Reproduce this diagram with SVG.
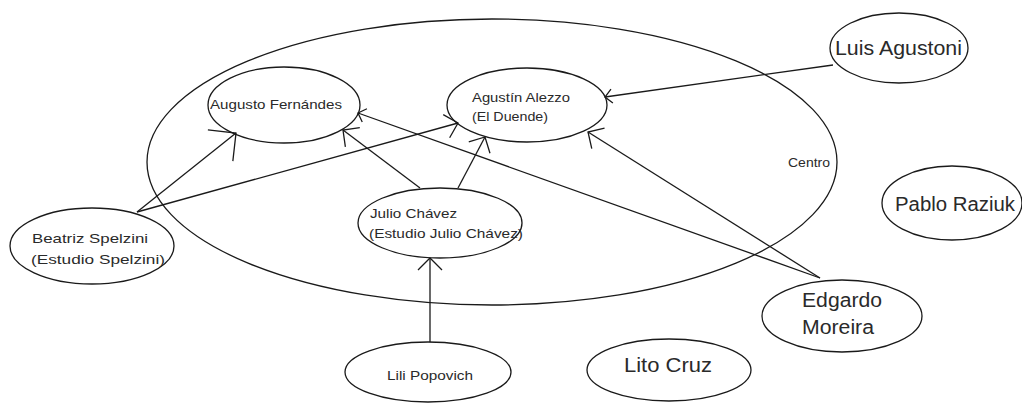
<svg xmlns="http://www.w3.org/2000/svg" width="1022" height="403" viewBox="0 0 1022 403">
<style>
.n{fill:none;stroke:#1a1a1a;stroke-width:1.3}
.t{font-family:"Liberation Sans",Arial,sans-serif;fill:#2a2a2a}
.s{font-size:13px}
.b{font-size:20px}
.c{fill:none;stroke:#1a1a1a;stroke-width:1.3}
</style>
<defs>
<marker id="aL" markerUnits="userSpaceOnUse" orient="auto" overflow="visible" markerWidth="1" markerHeight="1"><path d="M-20,-20L0,0L-20,20" fill="none" stroke="#1a1a1a" stroke-width="1.3"/></marker>
<marker id="aM" markerUnits="userSpaceOnUse" orient="auto" overflow="visible" markerWidth="1" markerHeight="1"><path d="M-12,-12L0,0L-12,12" fill="none" stroke="#1a1a1a" stroke-width="1.3"/></marker>
<marker id="aS" markerUnits="userSpaceOnUse" orient="auto" overflow="visible" markerWidth="1" markerHeight="1"><path d="M-7,-7L0,0L-7,7" fill="none" stroke="#1a1a1a" stroke-width="1.3"/></marker>
</defs>
<rect width="1022" height="403" fill="#fff"/>
<g id="centro">
<ellipse class="n" cx="492" cy="162" rx="345" ry="143"/>
<text class="t" x="788" y="167" font-size="12" textLength="42" lengthAdjust="spacingAndGlyphs">Centro</text>
</g>
<g id="connectors">
<path class="c" d="M137,212L236,133" marker-end="url(#aL)"/>
<path class="c" d="M137,212L458,123" marker-end="url(#aM)"/>
<path class="c" d="M420,188L343,130" marker-end="url(#aM)"/>
<path class="c" d="M458,188L485,137" marker-end="url(#aM)"/>
<path class="c" d="M820,278L358,113" marker-end="url(#aS)"/>
<path class="c" d="M820,278L588,132" marker-end="url(#aM)"/>
<path class="c" d="M833,65L605,97" marker-end="url(#aS)"/>
<path class="c" d="M430,342L430,258" marker-end="url(#aM)"/>
</g>
<g id="augusto">
<ellipse class="n" cx="284" cy="105" rx="76" ry="38"/>
<text class="t s" x="210" y="109" textLength="132" lengthAdjust="spacingAndGlyphs">Augusto Fernándes</text>
</g>
<g id="agustin">
<ellipse class="n" cx="527" cy="105" rx="80" ry="37"/>
<text class="t s" x="472" y="102" textLength="98" lengthAdjust="spacingAndGlyphs">Agustín Alezzo</text>
<text class="t s" x="472" y="121" textLength="76" lengthAdjust="spacingAndGlyphs">(El Duende)</text>
</g>
<g id="julio">
<ellipse class="n" cx="440" cy="223" rx="82" ry="35"/>
<text class="t s" x="370" y="218" textLength="87" lengthAdjust="spacingAndGlyphs">Julio Chávez</text>
<text class="t s" x="369" y="238" textLength="154" lengthAdjust="spacingAndGlyphs">(Estudio Julio Chávez)</text>
</g>
<g id="beatriz">
<ellipse class="n" cx="92" cy="246" rx="82" ry="38"/>
<text class="t s" x="32" y="243" textLength="116" lengthAdjust="spacingAndGlyphs">Beatriz Spelzini</text>
<text class="t s" x="31" y="264" textLength="134" lengthAdjust="spacingAndGlyphs">(Estudio Spelzini)</text>
</g>
<g id="lili">
<ellipse class="n" cx="428" cy="372" rx="83" ry="30"/>
<text class="t s" x="387" y="380" textLength="86" lengthAdjust="spacingAndGlyphs">Lili Popovich</text>
</g>
<g id="lito">
<ellipse class="n" cx="669" cy="370" rx="82" ry="31" stroke-width="1.7"/>
<text class="t b" x="624" y="372" textLength="88" lengthAdjust="spacingAndGlyphs">Lito Cruz</text>
</g>
<g id="edgardo">
<ellipse class="n" cx="842" cy="316" rx="80" ry="36"/>
<text class="t b" x="802" y="307" textLength="80" lengthAdjust="spacingAndGlyphs">Edgardo</text>
<text class="t b" x="802" y="334" textLength="72" lengthAdjust="spacingAndGlyphs">Moreira</text>
</g>
<g id="pablo">
<ellipse class="n" cx="952" cy="203" rx="70" ry="37"/>
<text class="t b" x="895" y="211" textLength="120" lengthAdjust="spacingAndGlyphs">Pablo Raziuk</text>
</g>
<g id="luis">
<ellipse class="n" cx="899" cy="48" rx="69" ry="35"/>
<text class="t b" x="835" y="55" textLength="127" lengthAdjust="spacingAndGlyphs">Luis Agustoni</text>
</g>
</svg>
